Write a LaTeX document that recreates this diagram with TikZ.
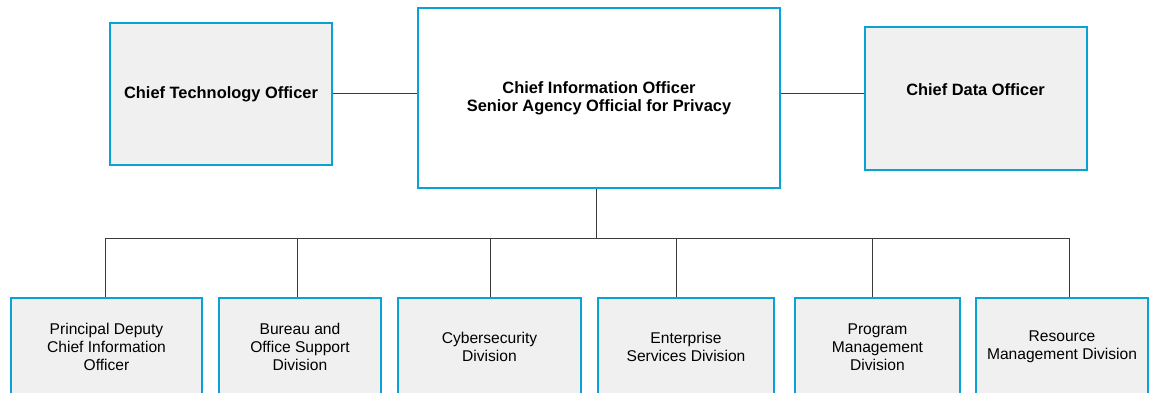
\documentclass[tikz,border=0pt]{standalone}
\usepackage{fontspec}
\setmainfont{Liberation Sans}
\usetikzlibrary{positioning}

\definecolor{boxline}{RGB}{8,162,212}
\definecolor{boxfill}{RGB}{240,240,240}
\definecolor{wire}{RGB}{60,60,60}

\tikzset{
    office/.style={draw=boxline, line width=2pt, fill=boxfill, align=center,
        font=\bfseries\fontsize{16.4}{18}\selectfont, inner sep=0pt},
    unit/.style={draw=boxline, line width=2pt, fill=boxfill, align=center,
        font=\fontsize{15.6}{18}\selectfont, minimum height=98pt, inner sep=0pt},
    link/.style={draw=wire, line width=1pt}
}

\begin{document}
\begin{tikzpicture}[x=1pt, y=-1pt, node distance=15pt]
        \useasboundingbox (0,0) rectangle (1151,393);
        % top row
        \node [office, fill=white, minimum width=362pt, minimum height=180pt] (cio) at (599,98)
            {Chief Information Officer\\Senior Agency Official for Privacy};
        \node [office, minimum width=222pt, minimum height=142pt] (cto) at (221,94) {Chief Technology Officer};
        \node [office, minimum width=222pt, minimum height=142pt] (cdo) at (975.5,98.5) {};
        \node [font=\bfseries\fontsize{16.4}{18}\selectfont] (cdotext) at (975.5,90) {Chief Data Officer};
        % divisions
        \node [unit, minimum width=191pt] (pd) at (106.5,347) {Principal Deputy\\Chief Information\\Officer};
        \node [unit, minimum width=162pt] (bos) [right=of pd] {Bureau and\\Office Support\\Division};
        \node [unit, minimum width=183pt] (csd) [right=of bos] {Cybersecurity\\Division};
        \node [unit, minimum width=176pt] (esd) [right=of csd] {Enterprise\\Services Division};
        \node [unit, minimum width=165pt] (pmd) [right=19pt of esd] {Program\\Management\\Division};
        \node [unit, minimum width=172pt] (rmd) [right=14pt of pmd] {Resource\\Management Division};
        \coordinate (bus) at (596,238);
        \path[link]
            (cto.east) -- (cto.east -| cio.west)
            (cio.east |- cto.east) -- (cdo.west |- cto.east)
            (bus |- cio.south) -- (bus)
            (105,238) -- (1069,238);
        \foreach \b/\x in {pd/105, bos/297, csd/490, esd/676, pmd/872, rmd/1069}
            \draw[link] (\x,238) -- (\x,0 |- \b.north);
    \end{tikzpicture}
\end{document}
